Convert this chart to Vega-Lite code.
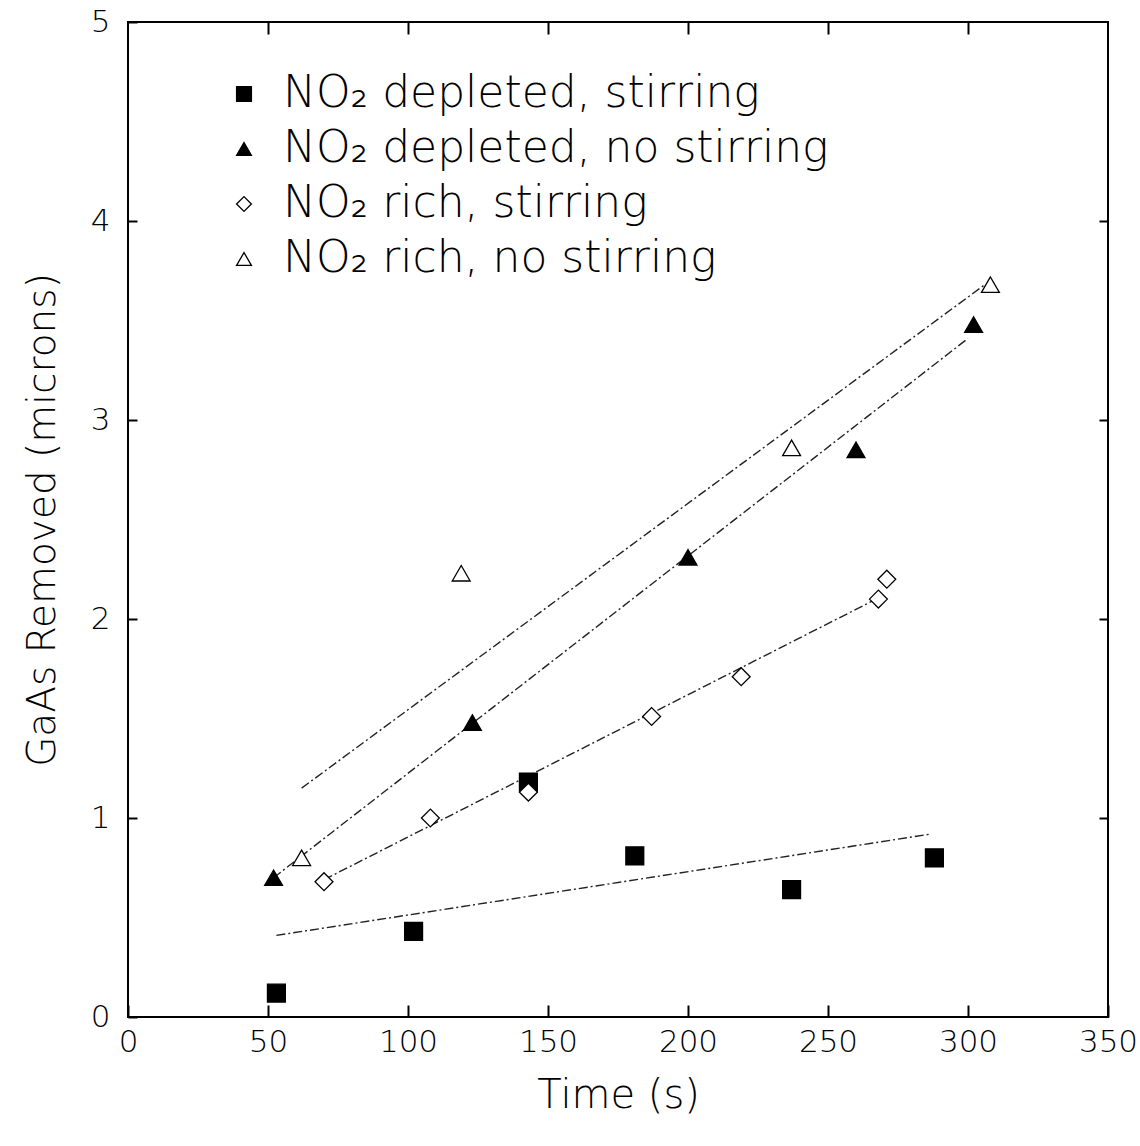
{
  "$schema": "https://vega.github.io/schema/vega-lite/v6.json",
  "autosize": {"type": "none"},
  "width": 980,
  "height": 995,
  "padding": {"left": 128, "top": 22, "right": 32, "bottom": 129},
  "background": "white",
  "config": {
    "font": "DejaVu Sans",
    "view": {"stroke": "black", "strokeWidth": 2},
    "axis": {"grid": false, "domain": false, "labelColor": "black", "titleColor": "black", "tickColor": "black", "tickWidth": 2, "labelFont": "DejaVu Sans", "titleFont": "DejaVu Sans", "titleFontWeight": 200, "labelFontWeight": 200}
  },
  "resolve": {"axis": {"x": "independent", "y": "independent"}},
  "datasets": {
    "points": [
      {"series": "NO₂ depleted, stirring", "time": 53, "removed": 0.12},
      {"series": "NO₂ depleted, stirring", "time": 102, "removed": 0.43},
      {"series": "NO₂ depleted, stirring", "time": 143, "removed": 1.18},
      {"series": "NO₂ depleted, stirring", "time": 181, "removed": 0.81},
      {"series": "NO₂ depleted, stirring", "time": 237, "removed": 0.64},
      {"series": "NO₂ depleted, stirring", "time": 288, "removed": 0.80},
      {"series": "NO₂ depleted, no stirring", "time": 52, "removed": 0.70},
      {"series": "NO₂ depleted, no stirring", "time": 123, "removed": 1.48},
      {"series": "NO₂ depleted, no stirring", "time": 200, "removed": 2.31},
      {"series": "NO₂ depleted, no stirring", "time": 260, "removed": 2.85},
      {"series": "NO₂ depleted, no stirring", "time": 302, "removed": 3.48},
      {"series": "NO₂ rich, stirring", "time": 70, "removed": 0.68},
      {"series": "NO₂ rich, stirring", "time": 108, "removed": 1.0},
      {"series": "NO₂ rich, stirring", "time": 143, "removed": 1.13},
      {"series": "NO₂ rich, stirring", "time": 187, "removed": 1.51},
      {"series": "NO₂ rich, stirring", "time": 219, "removed": 1.71},
      {"series": "NO₂ rich, stirring", "time": 268, "removed": 2.10},
      {"series": "NO₂ rich, stirring", "time": 271, "removed": 2.20},
      {"series": "NO₂ rich, no stirring", "time": 62, "removed": 0.80},
      {"series": "NO₂ rich, no stirring", "time": 119, "removed": 2.23},
      {"series": "NO₂ rich, no stirring", "time": 237, "removed": 2.86},
      {"series": "NO₂ rich, no stirring", "time": 308, "removed": 3.68}
    ],
    "fits": [
      {"series": "NO₂ depleted, stirring", "time": 53, "removed": 0.41},
      {"series": "NO₂ depleted, stirring", "time": 287, "removed": 0.92},
      {"series": "NO₂ depleted, no stirring", "time": 52, "removed": 0.70},
      {"series": "NO₂ depleted, no stirring", "time": 300, "removed": 3.41},
      {"series": "NO₂ rich, stirring", "time": 70, "removed": 0.69},
      {"series": "NO₂ rich, stirring", "time": 270, "removed": 2.12},
      {"series": "NO₂ rich, no stirring", "time": 62, "removed": 1.15},
      {"series": "NO₂ rich, no stirring", "time": 306, "removed": 3.68}
    ]
  },
  "layer": [
    {
      "data": {"name": "fits"},
      "mark": {"type": "line", "color": "#222", "strokeWidth": 1.4, "strokeDash": [9, 3, 2, 3]},
      "encoding": {
        "x": {"field": "time", "type": "quantitative", "scale": {"domain": [0, 350], "nice": false},
          "axis": {"orient": "bottom", "title": "Time (s)", "values": [0, 50, 100, 150, 200, 250, 300, 350], "ticks": true, "tickSize": 12, "offset": -12, "labelFontSize": 31, "labelPadding": 10, "titleFontSize": 40, "titlePadding": 18, "labelFlush": false}},
        "y": {"field": "removed", "type": "quantitative", "scale": {"domain": [0, 5], "nice": false},
          "axis": {"orient": "left", "title": "GaAs Removed (microns)", "values": [0, 1, 2, 3, 4, 5], "format": "d", "ticks": true, "tickSize": 9, "offset": -9, "labelFontSize": 31, "labelPadding": 18, "titleFontSize": 39, "titlePadding": 28, "labelFlush": false}},
        "detail": {"field": "series"}
      }
    },
    {
      "data": {"name": "points"},
      "mark": {"type": "point", "filled": false, "stroke": "black", "strokeWidth": 1.3, "opacity": 1},
      "encoding": {
        "x": {"field": "time", "type": "quantitative",
          "axis": {"orient": "top", "title": null, "labels": false, "values": [50, 100, 150, 200, 250, 300], "ticks": true, "tickSize": 12, "offset": -12}},
        "y": {"field": "removed", "type": "quantitative",
          "axis": {"orient": "right", "title": null, "labels": false, "values": [1, 2, 3, 4], "ticks": true, "tickSize": 9, "offset": -9}},
        "shape": {"field": "series", "type": "nominal",
          "scale": {"domain": ["NO₂ depleted, stirring", "NO₂ depleted, no stirring", "NO₂ rich, stirring", "NO₂ rich, no stirring"],
            "range": ["square", "triangle-up", "diamond", "triangle-up"]},
          "legend": {"title": null, "orient": "none", "legendX": 94, "legendY": 50, "labelFontSize": 44, "labelFontWeight": 200, "labelLimit": 0, "labelColor": "black", "symbolSize": 220, "rowPadding": 11, "labelOffset": 17, "symbolStrokeWidth": 1.3}},
        "fill": {"field": "series", "type": "nominal",
          "scale": {"domain": ["NO₂ depleted, stirring", "NO₂ depleted, no stirring", "NO₂ rich, stirring", "NO₂ rich, no stirring"],
            "range": ["black", "black", "white", "white"]},
          "legend": {"title": null, "orient": "none", "legendX": 94, "legendY": 50, "labelFontSize": 44, "labelFontWeight": 200, "labelLimit": 0, "labelColor": "black", "symbolSize": 220, "rowPadding": 11, "labelOffset": 17, "symbolStrokeWidth": 1.3}},
        "size": {"value": 320}
      }
    }
  ]
}
